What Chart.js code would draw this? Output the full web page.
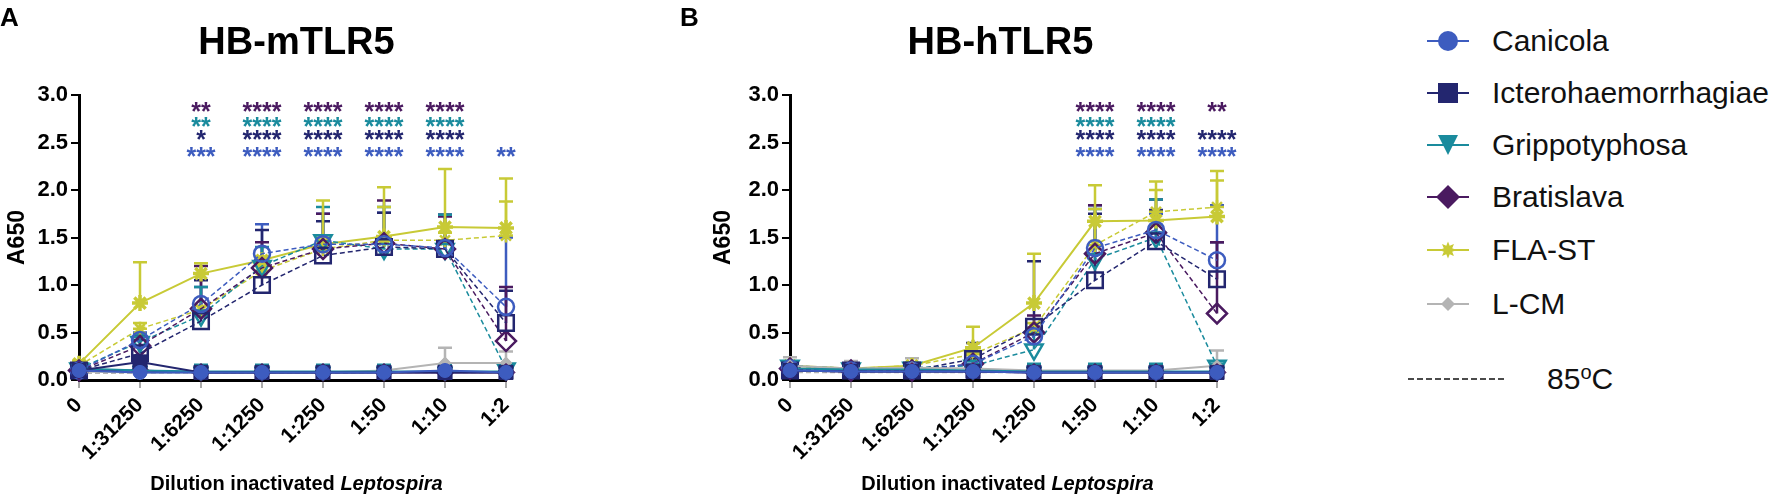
<!DOCTYPE html>
<html>
<head>
<meta charset="utf-8">
<script src="https://cdn.jsdelivr.net/npm/chart.js@4.4.1/dist/chart.umd.min.js"></script>
<style>
  html, body { margin: 0; padding: 0; background: #fff; }
  body { width: 1772px; height: 495px; position: relative; overflow: hidden;
         font-family: "Liberation Sans", Arial, Helvetica, sans-serif; }
  canvas { position: absolute; top: 0; }
  #chartA { left: 0; }
  #chartB { left: 680px; }
  .leg { position: absolute; left: 1427px; height: 34px; display: flex; align-items: center;
         font-size: 30px; color: #111; white-space: nowrap; }
  .leg svg { width: 44px; height: 30px; margin-right: 21px; flex: none; }
  #heat { position: absolute; left: 1408px; top: 362px; height: 34px; display: flex; align-items: center;
          font-size: 30px; color: #111; }
  #heat svg { width: 99px; height: 10px; margin-right: 40px; }
  #heat sup { font-size: 20px; vertical-align: 0; position: relative; top: -10px; }
</style>
</head>
<body>
<canvas id="chartA" width="560" height="495"></canvas>
<canvas id="chartB" width="591" height="495"></canvas>
<div id="legend"></div>
<div id="heat"><svg viewBox="0 0 99 10"><line x1="0" y1="5" x2="99" y2="5" stroke="#111" stroke-width="1.6" stroke-dasharray="6,3"/></svg><span>85<sup>o</sup>C</span></div>
<script>
// dilution categories and labelled y ticks
const dilutions = ['0', '1:31250', '1:6250', '1:1250', '1:250', '1:50', '1:10', '1:2'];
const yLabels = [0, 0.5, 1, 1.5, 2, 2.5, 3];
const legendLabels = ['Canicola', 'Icterohaemorrhagiae', 'Grippotyphosa', 'Bratislava', 'FLA-ST', 'L-CM'];

// ---- HB-mTLR5 (panel A) : live, filled symbols ----
const aCanicola    = [0.10, 0.08, 0.08, 0.08, 0.08, 0.08, 0.10, 0.08];
const aCanicolaErr = [0.12, 0.10, 0.10, 0.10, 0.10, 0.10, 0.12, 0.10];
const aIctero      = [0.10, 0.19, 0.08, 0.08, 0.08, 0.08, 0.08, 0.08];
const aIcteroErr   = [0.12, 0.22, 0.10, 0.10, 0.10, 0.10, 0.10, 0.10];
const aGripp       = [0.12, 0.10, 0.09, 0.09, 0.09, 0.09, 0.09, 0.09];
const aGrippErr    = [0.16, 0.16, 0.16, 0.16, 0.16, 0.16, 0.16, 0.16];
const aBrat        = [0.10, 0.10, 0.08, 0.08, 0.08, 0.08, 0.08, 0.08];
const aBratErr     = [0.12, 0.12, 0.10, 0.10, 0.10, 0.10, 0.10, 0.10];
const aFla         = [0.17, 0.81, 1.12, 1.26, 1.43, 1.51, 1.61, 1.60];
const aFlaErr      = [0.20, 1.24, 1.23, 1.30, 1.89, 2.03, 2.22, 2.12];
const aLcm         = [0.09, 0.08, 0.08, 0.08, 0.08, 0.10, 0.18, 0.18];
const aLcmErr      = [0.11, 0.10, 0.10, 0.10, 0.10, 0.12, 0.34, 0.30];
// panel A : 85 ºC, open symbols, dashed
const aCanicola85    = [0.10, 0.42, 0.80, 1.33, 1.43, 1.43, 1.39, 0.77];
const aCanicola85Err = [0.12, 0.50, 0.98, 1.64, 1.75, 1.76, 1.74, 1.50];
const aIctero85      = [0.10, 0.28, 0.62, 1.00, 1.31, 1.40, 1.38, 0.60];
const aIctero85Err   = [0.12, 0.42, 1.05, 1.58, 1.67, 1.76, 1.74, 0.94];
const aGripp85       = [0.12, 0.40, 0.68, 1.20, 1.47, 1.38, 1.38, 0.12];
const aGripp85Err    = [0.14, 0.48, 0.98, 1.40, 1.82, 1.82, 1.74, 0.15];
const aBrat85        = [0.10, 0.36, 0.75, 1.18, 1.38, 1.44, 1.38, 0.41];
const aBrat85Err     = [0.12, 0.46, 1.20, 1.45, 1.75, 1.89, 1.72, 0.98];
const aFla85         = [0.15, 0.54, 0.74, 1.15, 1.38, 1.47, 1.47, 1.52];
const aFla85Err      = [0.18, 0.60, 0.78, 1.20, 1.50, 1.82, 1.55, 1.88];
const aLcm85         = [0.07, 0.07, 0.07, 0.07, 0.07, 0.08, 0.08, 0.08];
// panel A significance marks (rows: Bratislava, Grippotyphosa, Icterohaemorrhagiae, Canicola)
const aStarsBrat     = ['', '', '**',  '****', '****', '****', '****', ''];
const aStarsGripp    = ['', '', '**',  '****', '****', '****', '****', ''];
const aStarsIctero   = ['', '', '*',   '****', '****', '****', '****', ''];
const aStarsCanicola = ['', '', '***', '****', '****', '****', '****', '**'];

// ---- HB-hTLR5 (panel B) : live ----
const bCanicola    = [0.10, 0.09, 0.09, 0.09, 0.08, 0.08, 0.08, 0.08];
const bCanicolaErr = [0.12, 0.11, 0.11, 0.11, 0.10, 0.10, 0.10, 0.10];
const bIctero      = [0.10, 0.09, 0.09, 0.09, 0.08, 0.08, 0.08, 0.08];
const bIcteroErr   = [0.12, 0.11, 0.11, 0.11, 0.10, 0.10, 0.10, 0.10];
const bGripp       = [0.12, 0.11, 0.11, 0.10, 0.09, 0.09, 0.09, 0.09];
const bGrippErr    = [0.17, 0.17, 0.17, 0.17, 0.17, 0.17, 0.17, 0.17];
const bBrat        = [0.10, 0.09, 0.09, 0.09, 0.08, 0.08, 0.08, 0.08];
const bBratErr     = [0.12, 0.11, 0.11, 0.11, 0.10, 0.10, 0.10, 0.10];
const bFla         = [0.15, 0.12, 0.15, 0.34, 0.81, 1.67, 1.68, 1.72];
const bFlaErr      = [0.18, 0.14, 0.18, 0.56, 1.33, 2.05, 2.09, 2.20];
const bLcm         = [0.15, 0.12, 0.13, 0.12, 0.10, 0.10, 0.10, 0.15];
const bLcmErr      = [0.24, 0.20, 0.23, 0.20, 0.12, 0.12, 0.12, 0.31];
// panel B : 85 ºC
const bCanicola85    = [0.12, 0.10, 0.10, 0.17, 0.46, 1.39, 1.58, 1.26];
const bCanicola85Err = [0.15, 0.12, 0.12, 0.20, 0.55, 1.84, 1.75, 1.84];
const bIctero85      = [0.10, 0.10, 0.10, 0.22, 0.56, 1.05, 1.46, 1.06];
const bIctero85Err   = [0.12, 0.12, 0.12, 0.39, 1.25, 1.75, 1.79, 1.45];
const bGripp85       = [0.15, 0.12, 0.13, 0.15, 0.32, 1.27, 1.50, 0.15];
const bGripp85Err    = [0.18, 0.15, 0.16, 0.20, 0.50, 1.80, 1.90, 0.17];
const bBrat85        = [0.12, 0.10, 0.10, 0.17, 0.50, 1.33, 1.55, 0.70];
const bBrat85Err     = [0.14, 0.12, 0.12, 0.22, 0.68, 1.84, 1.90, 1.45];
const bFla85         = [0.15, 0.12, 0.15, 0.27, 0.55, 1.42, 1.77, 1.82];
const bFla85Err      = [0.18, 0.14, 0.18, 0.30, 0.60, 1.80, 2.00, 2.10];
const bLcm85         = [0.08, 0.08, 0.08, 0.08, 0.08, 0.08, 0.08, 0.08];
const bStarsBrat     = ['', '', '', '', '', '****', '****', '**'];
const bStarsGripp    = ['', '', '', '', '', '****', '****', ''];
const bStarsIctero   = ['', '', '', '', '', '****', '****', '****'];
const bStarsCanicola = ['', '', '', '', '', '****', '****', '****'];

// y value (A650) of the four rows of significance marks
const starRows = [2.87, 2.71, 2.57, 2.39];

const colors = {
  canicola: '#3d5cbf', ictero: '#23266f', gripp: '#1a8b9d',
  brat: '#4a1a60', fla: '#c8ca36', lcm: '#b4b4b4'
};
const FONT = '"Liberation Sans", Arial, Helvetica, sans-serif';

function live(label, data, err, color, style, r, rot) {
  return {
    label, data, errUp: err, borderColor: color, backgroundColor: color,
    borderWidth: 2, pointStyle: style, pointRadius: r, pointRotation: rot || 0,
    pointBackgroundColor: color, pointBorderColor: color,
    pointBorderWidth: style === 'star' ? 3.5 : 1, clip: false, tension: 0
  };
}
function heat(label, data, err, color, style, r, rot) {
  return {
    label, data, errUp: err, borderColor: color, backgroundColor: 'rgba(0,0,0,0)',
    borderWidth: 1.5, borderDash: [5, 3], pointStyle: style, pointRadius: r,
    pointRotation: rot || 0, pointBackgroundColor: 'rgba(0,0,0,0)',
    pointBorderColor: color, pointBorderWidth: 2.5, clip: false, tension: 0
  };
}

// error bars (upper only), titles and significance marks
const extras = {
  id: 'extras',
  beforeDatasetsDraw(chart) {
    const ctx = chart.ctx, y = chart.scales.y;
    chart.data.datasets.forEach((ds, i) => {
      if (!ds.errUp) return;
      const meta = chart.getDatasetMeta(i);
      ctx.save();
      ctx.strokeStyle = ds.borderColor;
      ctx.lineWidth = 2.5;
      meta.data.forEach((pt, j) => {
        if (ds.errUp[j] <= ds.data[j]) return;
        const top = y.getPixelForValue(ds.errUp[j]);
        ctx.beginPath();
        ctx.moveTo(pt.x, pt.y); ctx.lineTo(pt.x, top);
        ctx.moveTo(pt.x - 7, top); ctx.lineTo(pt.x + 7, top);
        ctx.stroke();
      });
      ctx.restore();
    });
    // shorter minor ticks on the y axis (0.25 steps)
    ctx.save();
    ctx.strokeStyle = '#000';
    ctx.lineWidth = 2;
    const left = chart.chartArea.left;
    y.ticks.forEach(t => {
      if (yLabels.includes(t.value)) return;
      const py = y.getPixelForValue(t.value);
      ctx.beginPath(); ctx.moveTo(left - 5, py); ctx.lineTo(left, py); ctx.stroke();
    });
    ctx.restore();
  },
  afterDatasetsDraw(chart, args, opts) {
    const ctx = chart.ctx, x = chart.scales.x, y = chart.scales.y, area = chart.chartArea;
    ctx.save();
    // significance marks
    ctx.font = 'bold 25px ' + FONT;
    ctx.textAlign = 'center';
    ctx.textBaseline = 'alphabetic';
    opts.stars.forEach((row, k) => {
      ctx.fillStyle = row.color;
      row.marks.forEach((m, j) => {
        if (m) ctx.fillText(m, x.getPixelForValue(j), y.getPixelForValue(starRows[k]) + 12.5);
      });
    });
    // panel letter and title
    ctx.fillStyle = '#000';
    ctx.textAlign = 'left';
    ctx.font = 'bold 26px ' + FONT;
    ctx.fillText(opts.letter, opts.letterX, 26);
    ctx.textAlign = 'center';
    ctx.font = 'bold 38px ' + FONT;
    ctx.fillText(opts.title, (area.left + area.right) / 2 + opts.titleShift, 54);
    // x axis title with italic genus name
    const t1 = 'Dilution inactivated ', t2 = 'Leptospira';
    ctx.textAlign = 'left';
    ctx.font = 'bold 20px ' + FONT;
    const w1 = ctx.measureText(t1).width;
    ctx.font = 'italic bold 20px ' + FONT;
    const w2 = ctx.measureText(t2).width;
    const sx = (area.left + area.right) / 2 + 4 - (w1 + w2) / 2;
    ctx.font = 'bold 20px ' + FONT;
    ctx.fillText(t1, sx, 490);
    ctx.font = 'italic bold 20px ' + FONT;
    ctx.fillText(t2, sx + w1, 490);
    ctx.restore();
  }
};

function makePanel(id, s, o) {
  const datasets = [
    live('Canicola', s.can, s.canErr, colors.canicola, 'circle', 7),
    live('Icterohaemorrhagiae', s.ict, s.ictErr, colors.ictero, 'rect', 10),
    live('Grippotyphosa', s.gri, s.griErr, colors.gripp, 'triangle', 9, 180),
    live('Bratislava', s.bra, s.braErr, colors.brat, 'rectRot', 9),
    live('L-CM', s.lcm, s.lcmErr, colors.lcm, 'rectRot', 6),
    heat('Canicola 85ºC', s.can85, s.can85Err, colors.canicola, 'circle', 8),
    heat('Icterohaemorrhagiae 85ºC', s.ict85, s.ict85Err, colors.ictero, 'rect', 11),
    heat('Bratislava 85ºC', s.bra85, s.bra85Err, colors.brat, 'rectRot', 10),
    heat('Grippotyphosa 85ºC', s.gri85, s.gri85Err, colors.gripp, 'triangle', 10, 180),
    heat('L-CM 85ºC', s.lcm85, null, colors.lcm, 'rectRot', 0),
    heat('FLA-ST 85ºC', s.fla85, s.fla85Err, colors.fla, 'star', 7),
    live('FLA-ST', s.fla, s.flaErr, colors.fla, 'star', 8)
  ];
  return new Chart(document.getElementById(id), {
    type: 'line',
    data: { labels: dilutions, datasets },
    plugins: [extras],
    options: {
      responsive: false,
      animation: false,
      devicePixelRatio: 1,
      layout: { padding: { top: 95, right: 54, bottom: 0, left: o.padLeft } },
      plugins: {
        legend: { display: false },
        tooltip: { enabled: false },
        extras: { stars: s.stars, letter: o.letter, letterX: o.letterX, title: o.title, titleShift: o.titleShift }
      },
      scales: {
        x: {
          type: 'category',
          offset: false,
          grid: { drawOnChartArea: false, tickLength: 8, color: '#aaa', lineWidth: 2 },
          border: { color: '#000', width: 3 },
          ticks: { autoSkip: false, minRotation: 45, maxRotation: 45, color: '#000', padding: 5,
                   font: { family: FONT, size: 21, weight: 'bold' } },
          afterFit: sc => { sc.height = 115; }
        },
        y: {
          min: 0, max: 3,
          ticks: { stepSize: 0.25, color: '#000', padding: 3,
                   font: { family: FONT, size: 22, weight: 'bold' },
                   callback: v => yLabels.includes(v) ? v.toFixed(1) : '' },
          grid: { drawOnChartArea: false, tickLength: 8, color: ctx => yLabels.includes(ctx.tick && ctx.tick.value) ? '#000' : 'rgba(0,0,0,0)', lineWidth: 2 },
          border: { color: '#000', width: 3 },
          title: { display: true, text: 'A650', color: '#000', padding: { top: o.titlePad, bottom: 0 },
                   font: { family: FONT, size: 23, weight: 'bold', lineHeight: 1 } },
          afterFit: sc => { sc.width = 79; }
        }
      }
    }
  });
}

makePanel('chartA', {
  can: aCanicola, canErr: aCanicolaErr, ict: aIctero, ictErr: aIcteroErr,
  gri: aGripp, griErr: aGrippErr, bra: aBrat, braErr: aBratErr,
  fla: aFla, flaErr: aFlaErr, lcm: aLcm, lcmErr: aLcmErr,
  can85: aCanicola85, can85Err: aCanicola85Err, ict85: aIctero85, ict85Err: aIctero85Err,
  gri85: aGripp85, gri85Err: aGripp85Err, bra85: aBrat85, bra85Err: aBrat85Err,
  fla85: aFla85, fla85Err: aFla85Err, lcm85: aLcm85,
  stars: [
    { marks: aStarsBrat, color: colors.brat }, { marks: aStarsGripp, color: colors.gripp },
    { marks: aStarsIctero, color: colors.ictero }, { marks: aStarsCanicola, color: colors.canicola }
  ]
}, { padLeft: 0, titlePad: 6, letter: 'A', letterX: 0, title: 'HB-mTLR5', titleShift: 4 });

makePanel('chartB', {
  can: bCanicola, canErr: bCanicolaErr, ict: bIctero, ictErr: bIcteroErr,
  gri: bGripp, griErr: bGrippErr, bra: bBrat, braErr: bBratErr,
  fla: bFla, flaErr: bFlaErr, lcm: bLcm, lcmErr: bLcmErr,
  can85: bCanicola85, can85Err: bCanicola85Err, ict85: bIctero85, ict85Err: bIctero85Err,
  gri85: bGripp85, gri85Err: bGripp85Err, bra85: bBrat85, bra85Err: bBrat85Err,
  fla85: bFla85, fla85Err: bFla85Err, lcm85: bLcm85,
  stars: [
    { marks: bStarsBrat, color: colors.brat }, { marks: bStarsGripp, color: colors.gripp },
    { marks: bStarsIctero, color: colors.ictero }, { marks: bStarsCanicola, color: colors.canicola }
  ]
}, { padLeft: 31, titlePad: 1, letter: 'B', letterX: 0, title: 'HB-hTLR5', titleShift: -3 });

// legend (HTML text with small SVG symbols)
function sunburst(cx, cy, ro, ri, n) {
  const pts = [];
  for (let i = 0; i < 2 * n; i++) {
    const a = Math.PI * i / n, r = i % 2 ? ri : ro;
    pts.push((cx + r * Math.sin(a)).toFixed(1) + ',' + (cy - r * Math.cos(a)).toFixed(1));
  }
  return '<polygon points="' + pts.join(' ') + '"/>';
}
const legendSymbols = [
  '<circle cx="21" cy="15" r="10"/>',
  '<rect x="11" y="5" width="20" height="20"/>',
  '<polygon points="11,5 31,5 21,25"/>',
  '<polygon points="21,3 33,15 21,27 9,15"/>',
  sunburst(21, 15, 8.5, 4.5, 8),
  '<polygon points="21,8 28,15 21,22 14,15"/>'
];
const legendColors = [colors.canicola, colors.ictero, colors.gripp, colors.brat, colors.fla, colors.lcm];
const legendRows = [41, 93, 145, 197, 250, 304];
document.getElementById('legend').innerHTML = legendLabels.map((name, i) =>
  '<div class="leg" style="top:' + (legendRows[i] - 17) + 'px">' +
  '<svg viewBox="0 0 44 30"><line x1="0" y1="15" x2="42" y2="15" stroke="' + legendColors[i] + '" stroke-width="2"/>' +
  '<g fill="' + legendColors[i] + '">' + legendSymbols[i] + '</g></svg>' +
  '<span>' + name + '</span></div>'
).join('');
</script>
</body>
</html>
